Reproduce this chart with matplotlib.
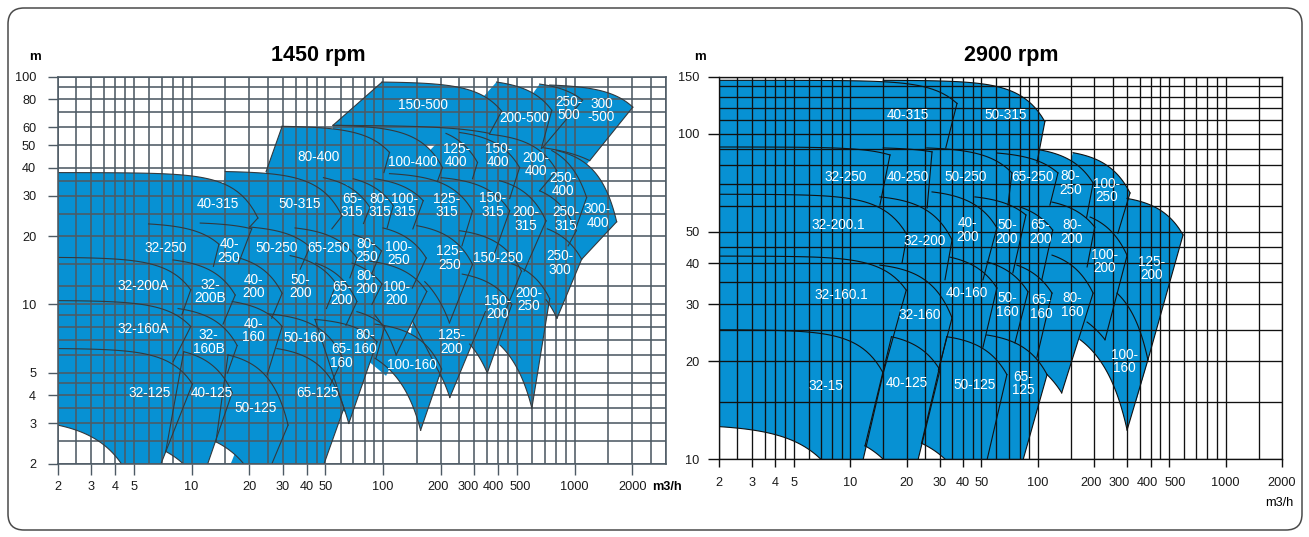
import numpy as np
import matplotlib.pyplot as plt
import matplotlib.ticker as mticker
import matplotlib.transforms as mtransforms
from matplotlib.patches import FancyBboxPatch

plt.rcParams['font.family'] = ['Liberation Sans', 'DejaVu Sans']

BLUE = '#0791d3'

# ---------------- 1450 rpm (left chart) ----------------
# each pump field: top-left, top-right, bottom-right, bottom-left corner (Q m3/h, H m)
l_names = ["150-500", "200-500", "250-\n500", "300\n-500", "80-400", "100-400", "125-\n400", "150-\n400",
           "200-\n400", "250-\n400", "300-\n400",
           "40-315", "50-315", "65-\n315", "80-\n315", "100-\n315", "125-\n315", "150-\n315", "200-\n315",
           "250-\n315",
           "32-250", "40-\n250", "50-250", "65-250", "80-\n250", "100-\n250", "125-\n250", "150-250", "250-\n300",
           "32-200A", "32-\n200B", "40-\n200", "50-\n200", "65-\n200", "80-\n200", "100-\n200", "125-\n200",
           "150-\n200", "200-\n250",
           "32-160A", "32-\n160B", "40-\n160", "50-160", "65-\n160", "80-\n160", "100-160",
           "32-125", "40-125", "50-125", "65-125"]
l_tl = [(98.7, 95), (391, 95), (657, 93.1), (741, 92.2), (29.7, 60.7), (57.3, 61.3), (213, 56.5), (251, 57),
        (360, 56), (760, 47.5), (806, 47.5),
        (2, 38), (15, 38.4), (48.8, 36.1), (69.9, 35.7), (90.7, 35.7), (108, 37.6), (201, 36.1), (406, 35),
        (657, 31.6),
        (5.96, 22.6), (11.1, 22.8), (20.1, 21.9), (34.7, 21.7), (69.9, 20.3), (99.9, 21.7), (150, 22.2),
        (251, 21.1), (720, 21.5),
        (2, 16.1), (8.0, 15.7), (17.3, 16.1), (32.7, 16.4), (44.4, 15.2), (68.8, 15.2), (85.4, 15.5), (143, 8.4),
        (259, 13.6), (470, 15.1),
        (2, 10.4), (8.5, 9.6), (16.3, 10.3), (25, 9.1), (44.1, 8.6), (73, 9.3), (90.7, 8.2),
        (2, 6.4), (9.1, 6.2), (15.5, 6.0), (27.9, 6.4)]
l_tr = [(416, 70.7), (760, 71.4), (1100, 79.1), (2013, 73.7), (108, 46.6), (204, 40), (311, 42.1), (516, 40),
        (806, 38.8), (1155, 29.5), (1658, 23.1),
        (22.2, 24), (61, 24.5), (85.4, 26.7), (113, 27.2), (162, 28.6), (293, 25.8), (458, 25.8), (709, 23.3),
        (1020, 21.1),
        (13.9, 18.4), (20.6, 21.5), (41.5, 17.9), (73, 16.0), (98, 17.2), (168, 16.0), (293, 15), (528, 14),
        (1088, 15.8),
        (9.9, 11.6), (16.9, 11.0), (29.7, 11.2), (57, 12.3), (73, 10.3), (98.7, 12.3), (169, 11.4), (342, 9.3),
        (470, 10.0), (741, 10.6),
        (9.9, 8.0), (17.3, 6.6), (29.7, 8.0), (61.6, 5.8), (93, 6.85), (102, 8.0), (202, 5.2),
        (10.1, 4.47), (16.3, 4.1), (31.9, 2.95), (62.4, 3.5)]
l_br = [(360, 56.5), (670, 48.5), (680, 48.9), (1199, 42.9), (101, 38), (192, 34.7), (293, 35.7), (458, 29.2),
        (657, 31.6), (1020, 21.9), (1088, 15.8),
        (20.1, 21.9), (54, 21.5), (79, 22.7), (105, 21.7), (143, 21.5), (258, 18.1), (374, 16.0), (545, 14.0),
        (925, 18.1),
        (13, 14.7), (17.6, 15.2), (36.9, 14.3), (67.1, 13.1), (87.4, 13.7), (142, 11.8), (222, 8.3), (431, 9.2),
        (809, 8.7),
        (8.9, 9.0), (14.6, 8.2), (26.2, 8.7), (50.6, 9.6), (64, 8.1), (87.4, 10.0), (117, 6.0), (223, 3.9),
        (350, 5.0), (598, 3.5),
        (8.0, 5.6), (15.4, 5.0), (24.8, 4.9), (52.8, 4.4), (66.2, 3.0), (91.8, 5.8), (157, 2.8),
        (5.5, 1.22), (11.1, 1.6), (22.8, 1.5), (47.1, 1.8)]
l_bl = [(54.7, 61.3), (360, 56.5), (618, 50), (680, 48.9), (24.5, 38.4), (101, 35), (197, 34.7), (300, 35),
        (503, 33.3), (631, 29.5), (942, 21.5),
        (2, 16.1), (21.4, 21.5), (57.9, 22.8), (87.4, 22.2), (112, 21.9), (155, 21.5), (266, 21.5), (473, 19),
        (772, 21.5),
        (2, 16.1), (13, 14.7), (19, 15.2), (38.2, 14.3), (69, 14), (111, 14), (165, 12.6), (283, 11.4),
        (709, 10.5),
        (2, 10.4), (8.9, 9.0), (16.3, 10.3), (29, 11.0), (51.4, 10.0), (73, 10.3), (90.4, 9.0), (202, 4.8),
        (283, 6.7), (410, 6.6),
        (2, 6.4), (8.4, 6.3), (15.5, 5.9), (27.3, 6.4), (63.2, 3.4), (78, 6.5), (90.7, 5.8),
        (2, 2.95), (7.33, 2.26), (13.4, 2.49), (24.4, 1.8)]
l_lab = [(161, 75.2), (548, 65.9), (930, 72.9), (1380, 71.4), (45.8, 44.3), (143, 42.5), (241, 45.2), (400, 45.2),
         (631, 41.2), (866, 33.6), (1318, 24.5),
         (13.8, 27.7), (36.9, 27.7), (68.8, 27.2), (96, 27.2), (130, 27.2), (214, 27.2), (374, 27.4), (558, 23.8),
         (898, 23.8),
         (7.3, 17.7), (15.7, 17.2), (27.9, 17.7), (51.8, 17.7), (82, 17.3), (121, 16.8), (222, 16.0), (397, 16.0),
         (835, 15.2),
         (5.6, 12.0), (12.5, 11.4), (21, 12), (36.9, 12), (61, 11.2), (82, 12.5), (118, 11.2), (228, 6.85),
         (397, 9.7), (575, 10.5),
         (5.6, 7.8), (12.3, 6.85), (21, 7.7), (39.1, 7.15), (60.2, 5.95), (81, 6.85), (141, 5.4),
         (6.03, 4.1), (12.7, 4.1), (21.5, 3.5), (45.3, 4.1)]
l_edges = ["TRBL", "TR", "TR", "TRB", "TRL", "TR", "TR", "TR", "TR", "TR", "TR",
           "TR", "TR", "TR", "TR", "TR", "TR", "TR", "TR", "TR",
           "TR", "TR", "TR", "TR", "TR", "TR", "TRB", "TR", "TRB",
           "TR", "TR", "TR", "TR", "TR", "TR", "TRB", "RBL", "TRB", "TRB",
           "TR", "TR", "TR", "TR", "TRBL", "TR", "TRB",
           "TRB", "TRBL", "TRBL", "TR"]
# how far the blue of a field may run under its neighbours (L = to the left, D = downwards)
l_fill = ["D", "LD", "LD", "LD", "D", "LD", "LD", "LD", "LD", "LD", "LD",
          "LD", "LD", "LD", "LD", "LD", "LD", "LD", "LD", "LD",
          "LD", "LD", "LD", "LD", "LD", "LD", "LD", "LD", "L",
          "LD", "LD", "LD", "LD", "LD", "LD", "LD", "L", "L", "L",
          "LD", "LD", "LD", "LD", "L", "L", "L",
          "L", "L", "L", "LD"]

# ---------------- 2900 rpm (right chart) ----------------
r_names = ["40-315", "50-315", "32-250", "40-250", "50-250", "65-250", "80-\n250", "100-\n250",
           "32-200.1", "32-200", "40-\n200", "50-\n200", "65-\n200", "80-\n200", "100-\n200", "125-\n200",
           "32-160.1", "32-160", "40-160", "50-\n160", "65-\n160", "80-\n160", "100-\n160",
           "32-15", "40-125", "50-125", "65-\n125"]
r_tl = [(2, 146), (15, 146), (2, 91.1), (15, 90.5), (25.6, 90.5), (60.5, 87.3), (103, 89.2), (154, 87.5),
        (2, 65.2), (14.4, 64), (27.3, 66.3), (46.2, 64), (80.3, 59.6), (119, 61.7), (190, 55.5), (299, 63.3),
        (2, 42.1), (14.4, 39.5), (34, 41.8), (53.6, 40.4), (77.4, 39.5), (119, 42.4), (264, 32.4),
        (2, 25.0), (16.6, 23.8), (32.7, 23.8), (53.4, 24.1)]
r_tr = [(37.1, 124), (109, 109), (16.3, 86.1), (27.3, 88.0), (72.8, 75.8), (128, 75.8), (197, 70.6), (310, 65.8),
        (20.1, 48.9), (34.9, 47.2), (60.5, 51.4), (86.4, 56.3), (120, 50.6), (201, 51.7), (299, 42.3), (594, 48.9),
        (19.9, 33.1), (34.9, 27.2), (60.5, 33.6), (88.6, 32.7), (119, 32.4), (197, 32.4), (386, 20.2),
        (15, 18.4), (30.1, 18.8), (68.4, 18.2), (112, 18.2)]
r_br = [(32.3, 90.5), (98.9, 81.4), (14.4, 60.4), (25.7, 59.2), (69.3, 60.4), (116, 60.4), (182, 55.4),
        (267, 49.5),
        (18.9, 40.1), (32, 35.6), (51, 35.6), (73.6, 37.4), (105, 35.6), (183, 39), (228, 23.3), (386, 20.2),
        (15, 18.4), (29.5, 18.8), (51, 22.1), (75.5, 22.8), (98.9, 20.6), (134, 16.0), (299, 12.3),
        (10.1, 6.9), (20.5, 7.6), (46.5, 7.0), (79.4, 9)]
r_bl = [(2, 91.1), (32.3, 90.5), (2, 65.2), (14.4, 60.4), (25.7, 59.2), (69.3, 60.4), (116, 60.4), (190, 55.1),
        (2, 42.1), (18.9, 39.5), (33.2, 41), (55.6, 42.4), (80.3, 38.7), (113, 40.4), (183, 26.4), (264, 32.4),
        (2, 25.0), (16.7, 23.8), (32.7, 23.8), (53.6, 23.8), (80.3, 22.4), (112, 18.2), (168, 23.3),
        (2, 12.6), (12, 11.0), (24, 11.2), (50, 9)]
r_lab = [(20.3, 114), (67, 114), (9.5, 73.7), (20.3, 73.7), (41.4, 73.7), (94.2, 73.7), (149, 70.6), (233, 67),
         (8.6, 52.5), (25, 47), (42.4, 50.6), (68.4, 50), (103, 50), (152, 50), (228, 40.5), (406, 38.6),
         (9.0, 32), (23.5, 27.8), (41.8, 32.4), (69, 29.8), (104, 29.4), (153, 29.8), (290, 19.95),
         (7.4, 16.8), (20, 17.2), (46.2, 16.9), (83.4, 17.1)]
r_edges = ["TR", "TR", "TR", "TR", "TR", "TR", "TR", "TR",
           "TR", "TR", "TR", "TR", "TR", "TR", "TRB", "TR",
           "TR", "TR", "TR", "TR", "TR", "TRB", "TRB",
           "TRB", "TRBL", "TRBL", "TR"]
r_fill = ["LD", "LD", "LD", "LD", "LD", "LD", "LD", "LD",
          "LD", "LD", "LD", "LD", "LD", "LD", "L", "LD",
          "LD", "LD", "LD", "LD", "LD", "L", "L",
          "L", "L", "L", "LD"]

l_xgrid = [2, 2.5, 3, 3.5, 4, 4.5, 5, 6, 7, 8, 9, 10, 15, 20, 25, 30, 35, 40, 45, 50, 60, 70, 80, 90, 100,
           150, 200, 250, 300, 350, 400, 450, 500, 600, 700, 800, 900, 1000, 1500, 2000, 2500, 3000]
r_xgrid = l_xgrid[:-2]
l_ygrid = [2, 2.5, 3, 3.5, 4, 4.5, 5, 6, 7, 8, 9, 10, 12, 15, 20, 25, 30, 35, 40, 50, 60, 70, 80, 90, 100]
r_ygrid = [10, 15, 20, 25, 30, 35, 40, 45, 50, 60, 70, 80, 90, 100, 110, 120, 130, 140, 150]
xticks = [2, 3, 4, 5, 10, 20, 30, 40, 50, 100, 200, 300, 400, 500, 1000, 2000]
l_yticks = [2, 3, 4, 5, 10, 20, 30, 40, 50, 60, 80, 100]
r_yticks = [10, 20, 30, 40, 50, 100, 150]


def curve(p0, p1, n, num=50):
    # pump curve H = a - b*Q^n through two corners
    (q0, h0), (q1, h1) = p0, p1
    q = np.geomspace(q0, q1, num)
    if h0 > h1 and q1 > q0:
        b = (h0 - h1) / (q1 ** n - q0 ** n)
        h = h0 - b * (q ** n - q0 ** n)
    else:
        h = np.geomspace(h0, h1, num)
    return q, h


def line(p0, p1, num=12):
    return np.geomspace(p0[0], p1[0], num), np.geomspace(p0[1], p1[1], num)


def fill_outline(tl, tr, br, bl, ext):
    top = curve(tl, tr, 3)
    right = line(tr, br)
    qs = [top[0], right[0]]
    hs = [top[1], right[1]]
    if 'D' in ext:
        # carry the right edge on below the corner, then back under the field
        dq = np.log10(br[0] / tr[0])
        dh = np.log10(br[1] / tr[1])
        qs.append([br[0] * 10 ** (0.33 * dq)])
        hs.append([br[1] * 10 ** (0.33 * dh)])
        if 'L' in ext:
            qs.append([bl[0] / 1.3, bl[0] / 1.6])
            hs.append([bl[1] / 1.4, bl[1]])
        else:
            qs.append([bl[0], bl[0]])
            hs.append([bl[1] / 1.3, bl[1]])
    else:
        bottom = curve(bl, br, 2)
        qs.append(bottom[0][::-1])
        hs.append(bottom[1][::-1])
        if 'L' in ext:
            qs.append([bl[0] / 1.6])
            hs.append([bl[1]])
    return np.concatenate(qs), np.concatenate(hs)


def draw_panel(ax, names, tl, tr, br, bl, lab, edges, fills, xlim, ylim, xgrid, ygrid, yticks,
               grid_col, grid_lw, edge_col, edge_lw):
    ax.set_xscale('log')
    ax.set_yscale('log')
    for i in range(len(names)):
        qs, hs = fill_outline(tl[i], tr[i], br[i], bl[i], fills[i])
        ax.fill(qs, hs, color=BLUE, lw=0, zorder=1)
        segs = [curve(tl[i], tr[i], 3), line(tr[i], br[i]), curve(bl[i], br[i], 2), line(bl[i], tl[i])]
        for key, seg in zip("TRBL", segs):
            if key in edges[i]:
                ax.plot(seg[0], seg[1], color=edge_col, lw=edge_lw, zorder=3)
        ax.text(lab[i][0], lab[i][1], names[i], color='white', ha='center', va='center',
                fontsize=9.8, linespacing=0.95, zorder=4)
    for v in xgrid:
        ax.axvline(v, color=grid_col, lw=grid_lw, zorder=2)
    for v in ygrid:
        ax.axhline(v, color=grid_col, lw=grid_lw, zorder=2)
    ax.set_xlim(*xlim)
    ax.set_ylim(*ylim)
    ax.set_xticks(xticks)
    ax.set_xticklabels([''] * len(xticks))
    ax.set_yticks(yticks)
    ax.set_yticklabels([str(v) for v in yticks])
    ax.xaxis.set_minor_locator(mticker.NullLocator())
    ax.yaxis.set_minor_locator(mticker.NullLocator())
    for s in ax.spines.values():
        s.set_color(grid_col)
        s.set_linewidth(grid_lw)
        s.set_zorder(5)


def x_labels(ax, fig, drop_px, shift_px):
    base = mtransforms.blended_transform_factory(ax.transData, ax.transAxes)
    for v in xticks:
        tr = mtransforms.offset_copy(base, fig=fig, x=shift_px.get(v, 0) * 0.72, y=-drop_px * 0.72,
                                     units='points')
        ax.text(v, 0, str(v), transform=tr, ha='center', va='center', fontsize=9.2, color='#1a1a1a',
                clip_on=False)


W, H = 1309, 537
fig = plt.figure(figsize=(W / 100, H / 100), dpi=100)

axl = fig.add_axes([57.7 / W, 1 - 463.5 / H, 608.3 / W, 386.5 / H])
draw_panel(axl, l_names, l_tl, l_tr, l_br, l_bl, l_lab, l_edges, l_fill, (2, 3000), (2, 100),
           l_xgrid, l_ygrid, l_yticks, '#4d5a64', 1.15, '#34393d', 0.8)
axl.tick_params(axis='x', length=8, width=1, color='#4d5a64')
axl.tick_params(axis='y', length=7, width=1, color='#4d5a64', pad=8.5, labelsize=9.2, labelcolor='#1a1a1a')
x_labels(axl, fig, 23, {200: -3, 300: -6, 400: -5, 500: 3})

axr = fig.add_axes([719 / W, 1 - 459.3 / H, 563 / W, 382.8 / H])
draw_panel(axr, r_names, r_tl, r_tr, r_br, r_bl, r_lab, r_edges, r_fill, (2, 2000), (10, 150),
           r_xgrid, r_ygrid, r_yticks, '#111111', 0.95, '#111111', 0.8)
axr.tick_params(axis='x', length=6, width=1, color='#111111')
axr.tick_params(axis='y', length=8, width=1, color='#111111', pad=5.9, labelsize=9.2, labelcolor='#1a1a1a')
x_labels(axr, fig, 24, {200: -3, 300: -8, 400: -3, 500: 6})

fig.text(318 / W, 1 - 55 / H, "1450 rpm", ha='center', va='center', fontsize=15.5, fontweight='bold')
fig.text(1011 / W, 1 - 55 / H, "2900 rpm", ha='center', va='center', fontsize=15.5, fontweight='bold')
fig.text(34.5 / W, 1 - 57 / H, "m", ha='center', va='center', fontsize=9.5, fontweight='bold')
fig.text(700 / W, 1 - 57 / H, "m", ha='center', va='center', fontsize=9.5, fontweight='bold')
fig.text(652 / W, 1 - 487 / H, "m3/h", ha='left', va='center', fontsize=9.2, fontweight='bold')
fig.text(1279 / W, 1 - 503 / H, "m3/h", ha='center', va='center', fontsize=9.2)

border = FancyBboxPatch((0.08, 0.07), 12.94, 5.22, boxstyle="round,pad=0,rounding_size=0.16",
                        transform=fig.dpi_scale_trans, fill=False, ec='#4a4a4a', lw=1.1)
fig.add_artist(border)

fig.savefig('out.png', dpi=100)
